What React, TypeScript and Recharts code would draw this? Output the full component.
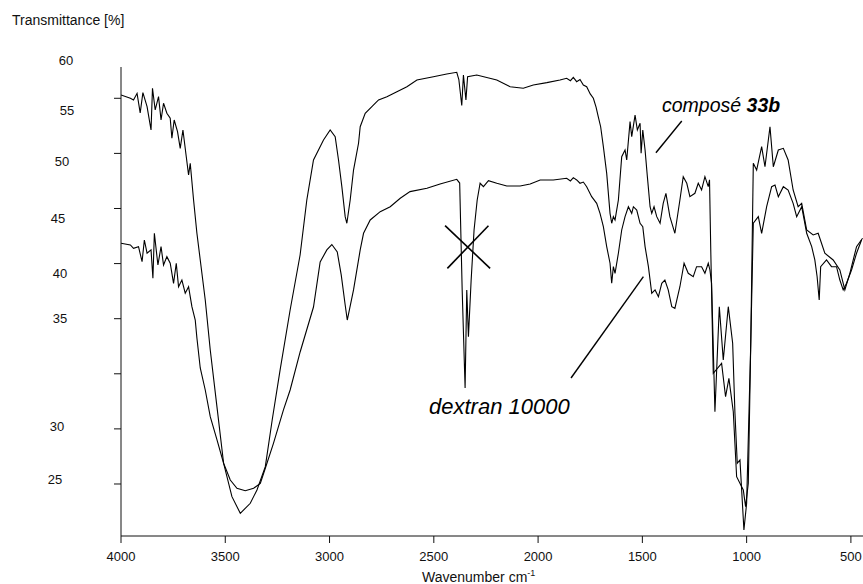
import { LineChart, Line, XAxis, YAxis, ReferenceLine } from "recharts";

// IR spectra: [wavenumber cm-1, transmittance]
const composeSpectrum: [number, number][] = [
  [4000, 60.3], [3955, 60.0], [3940, 59.85], [3923, 60.45], [3908, 58.67], [3895, 60.51],
  [3875, 59.24], [3856, 57.12], [3849, 60.91], [3836, 58.94], [3820, 60.15], [3808, 58.03],
  [3796, 59.55], [3780, 58.64], [3764, 58.19], [3756, 56.37], [3745, 58.03], [3729, 56.97],
  [3716, 55.46], [3703, 57.12], [3687, 54.7], [3676, 53.04], [3668, 54.1], [3652, 50.77],
  [3636, 47.75], [3620, 45.33], [3596, 41.7], [3572, 37.16], [3540, 32.02], [3508, 26.88],
  [3468, 23.85], [3428, 22.34], [3380, 23.25], [3348, 24.46], [3308, 26.57], [3275, 30.81],
  [3237, 35.35], [3189, 40.79], [3141, 45.8], [3109, 50.77], [3077, 54.4], [3029, 56.22],
  [2997, 57.12], [2973, 56.52], [2957, 54.4], [2941, 51.98], [2925, 49.26], [2917, 48.66],
  [2901, 50.77], [2885, 53.49], [2861, 55.92], [2853, 57.42], [2829, 58.64], [2797, 59.24],
  [2765, 59.85], [2725, 60.15], [2677, 60.6], [2629, 61.05], [2581, 61.66], [2502, 61.96],
  [2438, 62.21], [2390, 62.36], [2380, 61.7], [2366, 59.35], [2358, 62.1], [2346, 59.85],
  [2338, 61.96], [2294, 62.11], [2198, 61.66], [2134, 61.05], [2071, 60.91], [2023, 61.21],
  [1958, 61.42], [1895, 61.66], [1863, 61.82], [1845, 61.6], [1831, 61.9], [1815, 61.51],
  [1799, 61.7], [1783, 61.2], [1767, 61.05], [1750, 60.4], [1735, 60.0], [1722, 59.2],
  [1711, 58.3], [1700, 57.42], [1687, 55.61], [1671, 53.19], [1655, 49.56], [1647, 48.66],
  [1639, 49.26], [1631, 48.96], [1615, 50.77], [1599, 54.7], [1583, 55.31], [1575, 54.4],
  [1559, 57.88], [1551, 56.52], [1535, 58.48], [1524, 57.12], [1511, 57.73], [1506, 55.01],
  [1498, 57.12], [1487, 55.31], [1476, 52.89], [1463, 50.16], [1455, 49.56], [1444, 50.16],
  [1431, 49.26], [1415, 48.66], [1400, 50.47], [1387, 51.38], [1368, 49.26], [1344, 47.75],
  [1320, 50.77], [1304, 52.89], [1287, 52.29], [1272, 51.07], [1248, 51.38], [1232, 52.29],
  [1216, 51.68], [1200, 52.89], [1184, 51.98], [1178, 52.6], [1172, 46.24], [1160, 35.05],
  [1120, 35.95], [1101, 32.92], [1085, 34.59], [1064, 31.56], [1048, 25.66], [1016, 24.46],
  [1005, 22.94], [992, 25.06], [980, 38.0], [968, 54.1], [952, 53.49], [928, 55.61],
  [912, 53.79], [888, 57.42], [872, 53.79], [848, 55.31], [824, 55.46], [801, 54.4],
  [777, 51.68], [753, 50.16], [736, 50.47], [712, 48.05], [681, 47.6], [657, 47.75],
  [625, 45.94], [585, 45.33], [553, 44.42], [529, 42.61], [505, 44.12], [473, 46.54],
  [444, 47.3],
];

const dextranSpectrum: [number, number][] = [
  [4000, 46.84], [3955, 46.69], [3940, 46.39], [3916, 46.54], [3899, 45.17], [3888, 47.14],
  [3875, 45.94], [3856, 46.24], [3847, 43.67], [3840, 47.75], [3823, 44.87], [3808, 46.54],
  [3796, 44.87], [3780, 45.63], [3764, 45.03], [3748, 43.21], [3735, 45.03], [3724, 42.9],
  [3708, 43.51], [3692, 42.31], [3676, 42.9], [3660, 41.09], [3644, 39.88], [3636, 38.25],
  [3620, 35.53], [3596, 33.53], [3572, 31.11], [3540, 29.03], [3508, 26.88], [3476, 25.36],
  [3444, 24.61], [3404, 24.39], [3364, 24.61], [3332, 25.06], [3308, 26.43], [3269, 28.69],
  [3221, 31.72], [3189, 33.53], [3141, 36.98], [3077, 41.06], [3045, 45.15], [3013, 46.24],
  [2989, 46.73], [2963, 46.05], [2944, 43.97], [2925, 41.24], [2915, 39.88], [2885, 42.61],
  [2853, 46.24], [2837, 47.75], [2805, 48.96], [2757, 49.71], [2709, 50.16], [2661, 50.93],
  [2614, 51.53], [2533, 51.83], [2470, 52.22], [2390, 52.65], [2376, 52.31], [2364, 42.61],
  [2350, 33.71], [2342, 42.61], [2334, 38.37], [2321, 43.51], [2307, 48.05], [2292, 50.77],
  [2278, 52.29], [2262, 51.98], [2238, 52.52], [2198, 52.29], [2150, 52.04], [2086, 52.04],
  [2038, 52.22], [1990, 52.59], [1927, 52.59], [1863, 52.74], [1845, 52.5], [1831, 52.8],
  [1815, 52.59], [1799, 52.29], [1783, 52.4], [1767, 51.98], [1743, 51.07], [1719, 50.47],
  [1703, 49.56], [1687, 48.35], [1671, 46.54], [1655, 45.03], [1647, 43.21], [1639, 44.72],
  [1631, 44.12], [1615, 45.94], [1599, 48.05], [1583, 49.26], [1567, 50.16], [1551, 49.56],
  [1543, 50.16], [1527, 49.86], [1511, 48.66], [1498, 48.35], [1487, 46.54], [1471, 44.72],
  [1455, 42.31], [1439, 42.61], [1423, 42.0], [1407, 43.21], [1392, 43.51], [1376, 42.61],
  [1359, 41.09], [1344, 40.94], [1320, 42.9], [1300, 45.03], [1280, 44.12], [1256, 43.81],
  [1240, 44.72], [1216, 44.72], [1200, 44.12], [1184, 45.03], [1176, 44.42], [1168, 43.21],
  [1152, 31.56], [1131, 41.09], [1112, 36.25], [1088, 41.09], [1067, 37.77], [1056, 31.42],
  [1045, 26.88], [1032, 27.18], [1013, 20.83], [1000, 23.25], [981, 37.16], [968, 48.66],
  [944, 49.26], [928, 47.75], [904, 50.16], [880, 51.98], [864, 52.13], [848, 51.07],
  [824, 51.98], [801, 51.68], [777, 50.47], [760, 49.26], [736, 50.16], [712, 47.75],
  [688, 46.54], [673, 45.33], [662, 43.81], [652, 41.7], [645, 44.72], [617, 45.33],
  [593, 44.72], [569, 44.72], [553, 43.51], [537, 42.61], [521, 43.21], [497, 44.42],
  [473, 45.94], [449, 47.14],
];

const wavenumberTicks = [4000, 3500, 3000, 2500, 2000, 1500, 1000, 500];
const transmittanceTicks = [60, 55, 50, 45, 40, 35, 30, 25];

const X_DOMAIN: [number, number] = [442, 4000];
const Y_DOMAIN: [number, number] = [20.28, 62.84];

// annotation segments, in data coordinates
const composePointer = [{ x: 1311, y: 57.94 }, { x: 1435, y: 55.06 }];
const dextranPointer = [{ x: 1842, y: 34.62 }, { x: 1495, y: 43.81 }];
const crossA = [{ x: 2446, y: 48.44 }, { x: 2230, y: 44.57 }];
const crossB = [{ x: 2238, y: 48.44 }, { x: 2435, y: 44.57 }];

const toRows = (s: [number, number][]) => s.map(([wn, t]) => ({ wn, t }));

// the printed y labels sit off their tick marks in the original
const yLabelShift: Record<number, [number, number]> = {
  60: [6, -38], 55: [7, -43], 50: [2, -47], 45: [-2, -45],
  40: [0, -45], 35: [0, -55], 30: [-3, -2], 25: [-5, -4],
};

const FONT = "'Liberation Sans', Arial, Helvetica, sans-serif";
const INK = "#111";

const YTick = (props: any) => {
  const { y, payload } = props;
  const [dx, dy] = yLabelShift[payload.value] ?? [0, 0];
  return (
    <text x={60 + dx} y={y + dy} textAnchor="middle" dominantBaseline="central"
      fontSize={13} fontFamily={FONT} fill={INK}>
      {payload.value}
    </text>
  );
};

export default function App() {
  return (
    <div style={{ position: "absolute", left: 0, top: 0, width: 863, height: 584, background: "#fff" }}>
      <LineChart width={863} height={584} margin={{ top: 67, right: 0, bottom: 0, left: 1 }}>
        <XAxis
          dataKey="wn"
          type="number"
          domain={X_DOMAIN}
          reversed
          allowDataOverflow
          ticks={wavenumberTicks}
          height={48}
          tickSize={7}
          tickMargin={9}
          stroke={INK}
          tick={{ fill: INK, fontSize: 13, fontFamily: FONT }}
        />
        <XAxis
          xAxisId="top"
          orientation="top"
          type="number"
          domain={X_DOMAIN}
          reversed
          height={0}
          tick={false}
          tickLine={false}
          stroke={INK}
        />
        <YAxis
          type="number"
          domain={Y_DOMAIN}
          allowDataOverflow
          ticks={transmittanceTicks}
          width={120}
          tickSize={7}
          stroke={INK}
          tick={<YTick />}
        />
        <Line data={toRows(composeSpectrum)} dataKey="t" type="linear" stroke="#000"
          strokeWidth={1.1} dot={false} isAnimationActive={false} />
        <Line data={toRows(dextranSpectrum)} dataKey="t" type="linear" stroke="#000"
          strokeWidth={1.1} dot={false} isAnimationActive={false} />
        <ReferenceLine segment={composePointer} stroke="#000" strokeWidth={1.4} />
        <ReferenceLine segment={dextranPointer} stroke="#000" strokeWidth={1.4} />
        <ReferenceLine segment={crossA} stroke="#000" strokeWidth={1.6} />
        <ReferenceLine segment={crossB} stroke="#000" strokeWidth={1.6} />
      </LineChart>
      <svg width={863} height={584} style={{ position: "absolute", left: 0, top: 0, pointerEvents: "none" }}>
        <text x={12} y={25} fontSize={14} fontFamily={FONT} fill={INK}>Transmittance [%]</text>
        <text x={422} y={582} fontSize={14} fontFamily={FONT} fill={INK}>
          Wavenumber cm<tspan fontSize={9} dy={-6}>-1</tspan>
        </text>
        <text x={662} y={112} fontSize={19.5} fontStyle="italic" fontFamily={FONT} fill="#000">
          composé <tspan fontWeight="bold">33b</tspan>
        </text>
        <text x={429} y={414} fontSize={22} fontStyle="italic" fontFamily={FONT} fill="#000">
          dextran 10000
        </text>
      </svg>
    </div>
  );
}
